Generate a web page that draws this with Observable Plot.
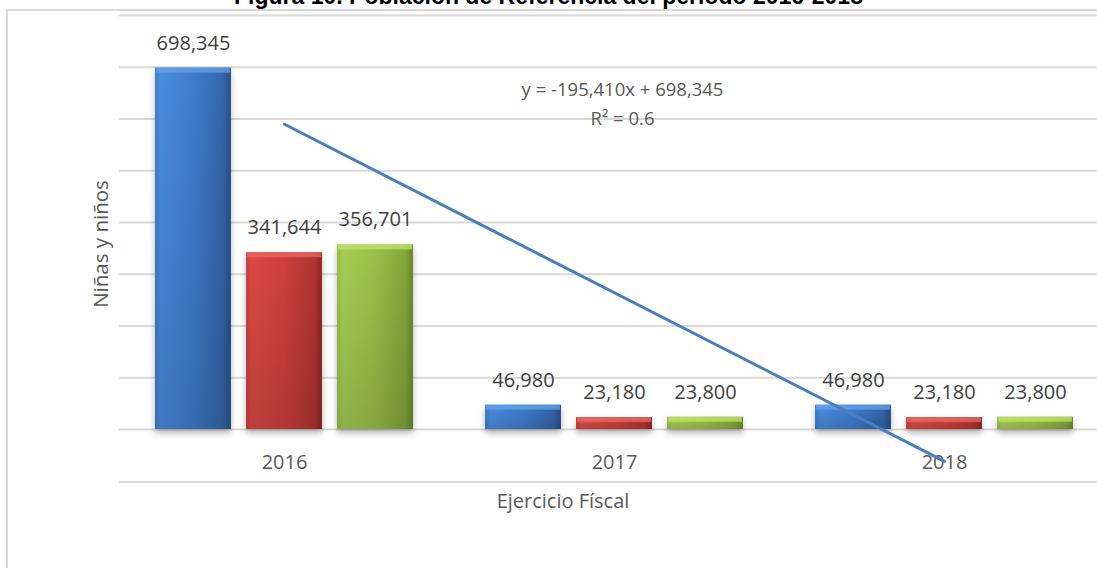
<!DOCTYPE html>
<html>
<head>
<meta charset="utf-8">
<script src="https://cdn.jsdelivr.net/npm/d3@7"></script>
<script src="https://cdn.jsdelivr.net/npm/@observablehq/plot@0.6"></script>
<style>
  html, body { margin: 0; padding: 0; background: #fff; overflow: hidden; }
  #wrap { position: relative; width: 1097px; height: 568px; overflow: hidden; }
  #frame { position: absolute; left: 6px; top: 9px; width: 1200px; height: 700px; border: 2px solid #d9d9d9; box-sizing: border-box; }
  #title { position: absolute; left: 0; width: 1097px; top: -15px; text-align: center; font: bold 23px "Liberation Sans", Arial, sans-serif; line-height: 23px; color: #000; white-space: nowrap; }
  #chart { position: absolute; left: 0; top: 0; width: 1110px; }
  #chart svg { max-width: none !important; }
  #xrule { position: absolute; left: 119px; right: 0; top: 481px; height: 2px; background: #d9d9d9; }
  #xtitle { position: absolute; left: 0; width: 1126px; top: 487px; text-align: center; font: 20px "Open Sans", sans-serif; color: #595959; }
  #ytitle { position: absolute; left: 100px; top: 244px; transform: translate(-50%, -50%) rotate(-90deg); font: 20.5px "Open Sans", sans-serif; color: #595959; white-space: nowrap; }
</style>
</head>
<body>
<svg width="0" height="0" style="position:absolute">
  <defs>
    <linearGradient id="gBlue" x1="0" x2="1" y1="0" y2="0">
      <stop offset="0" stop-color="#3f7bc8"/>
      <stop offset="0.07" stop-color="#4a8ce0"/>
      <stop offset="0.5" stop-color="#3f7dcd"/>
      <stop offset="0.9" stop-color="#3465aa"/>
      <stop offset="1" stop-color="#27508a"/>
    </linearGradient>
    <linearGradient id="gRed" x1="0" x2="1" y1="0" y2="0">
      <stop offset="0" stop-color="#c93e3a"/>
      <stop offset="0.07" stop-color="#da4944"/>
      <stop offset="0.5" stop-color="#cf403c"/>
      <stop offset="0.9" stop-color="#b03431"/>
      <stop offset="1" stop-color="#8e2826"/>
    </linearGradient>
    <linearGradient id="gGreen" x1="0" x2="1" y1="0" y2="0">
      <stop offset="0" stop-color="#98bd47"/>
      <stop offset="0.07" stop-color="#a7cd55"/>
      <stop offset="0.5" stop-color="#9cc04a"/>
      <stop offset="0.9" stop-color="#83a639"/>
      <stop offset="1" stop-color="#6a882b"/>
    </linearGradient>
    <linearGradient id="vShade" x1="0" x2="0" y1="0" y2="1">
      <stop offset="0" stop-color="#000" stop-opacity="0"/>
      <stop offset="1" stop-color="#000" stop-opacity="0.14"/>
    </linearGradient>
    <filter id="shadow" x="-20%" y="-20%" width="140%" height="160%">
      <feDropShadow dx="0" dy="4" stdDeviation="3" flood-color="#000" flood-opacity="0.3"/>
    </filter>
  </defs>
</svg>
<div id="wrap">
  <div id="frame"></div>
  <div id="title">Figura 10. Población de Referencia del periodo 2016-2018</div>
  <div id="chart"></div>
  <div id="xrule"></div>
  <div id="xtitle">Ejercicio Físcal</div>
  <div id="ytitle">Niñas y niños</div>
</div>
<script>
// ---- Data ----
const years = [2016, 2017, 2018];
const seriesNames = ["Total", "Niñas", "Niños"];
const totalValues = [698345, 46980, 46980];
const ninasValues = [341644, 23180, 23180];
const ninosValues = [356701, 23800, 23800];
const yTicks = [0, 100000, 200000, 300000, 400000, 500000, 600000, 700000, 800000];
const equationLines = ["y = -195,410x + 698,345", "R² = 0.6"];
const equationPos = [{x: 2017, y: 655000}, {x: 2017, y: 599000}];

// ---- Build tables ----
const seriesFills = ["url(#gBlue)", "url(#gRed)", "url(#gGreen)"];
const bevelFills = ["#62a2ee", "#e86a63", "#c2e26c"];
const seriesValues = [totalValues, ninasValues, ninosValues];
const barW = 0.23;          // bar width in category units
const step = 0.2758;        // distance between bars within a group
const rows = [];
seriesValues.forEach((vals, k) => {
  years.forEach((yr, i) => {
    const c = yr + (k - 1) * step;
    rows.push({series: seriesNames[k], k, year: yr, value: vals[i], x1: c - barW / 2, x2: c + barW / 2, cx: c});
  });
});
const totalRows = years.map((yr, i) => ({year: yr, value: totalValues[i]}));
const fmt = d3.format(",");

const marks = [
  Plot.ruleY(yTicks, {stroke: "#d9d9d9", strokeWidth: 2})
];
seriesNames.forEach((s, k) => {
  marks.push(Plot.rectY(rows.filter(d => d.k === k), {x1: "x1", x2: "x2", y: "value", fill: seriesFills[k]}));
});
marks.push(Plot.rectY(rows, {x1: "x1", x2: "x2", y: "value", fill: "url(#vShade)"}));
seriesNames.forEach((s, k) => {
  marks.push(Plot.rect(rows.filter(d => d.k === k), {x1: "x1", x2: "x2", y1: "value", y2: "value", insetBottom: -5, insetLeft: 1, insetRight: 1, fill: bevelFills[k], fillOpacity: 0.75}));
});
marks.push(
  Plot.text(rows, {x: "cx", y: "value", text: d => fmt(d.value), dy: -25, fill: "#404040", fontSize: 20, lineAnchor: "middle"}),
  Plot.text(years, {x: d => d, y: () => 0, text: d => String(d), dy: 33, fill: "#595959", fontSize: 20, lineAnchor: "middle"}),
  Plot.linearRegressionY(totalRows, {x: "year", y: "value", stroke: "#4a7ebf", strokeWidth: 3, ci: 0}),
  Plot.text(equationLines.map((t, i) => ({t, ...equationPos[i]})), {x: "x", y: "y", text: "t", dx: 8, fill: "#595959", fontSize: 18.5, lineAnchor: "middle"})
);

const chart = Plot.plot({
  width: 1110,
  height: 568,
  marginLeft: 119,
  marginRight: 1,
  marginTop: 15,
  marginBottom: 139,
  x: {type: "linear", domain: [2015.5, 2018.5], axis: null},
  y: {domain: [0, 800000], axis: null},
  style: {fontFamily: "'Open Sans', sans-serif", fontSize: "20px", background: "transparent", overflow: "visible", maxWidth: "none"},
  marks
});
document.getElementById("chart").appendChild(chart);
const groups = chart.querySelectorAll('g[aria-label="rect"]');
for (let i = 0; i < 3 && i < groups.length; i++) groups[i].setAttribute("filter", "url(#shadow)");
</script>
</body>
</html>
